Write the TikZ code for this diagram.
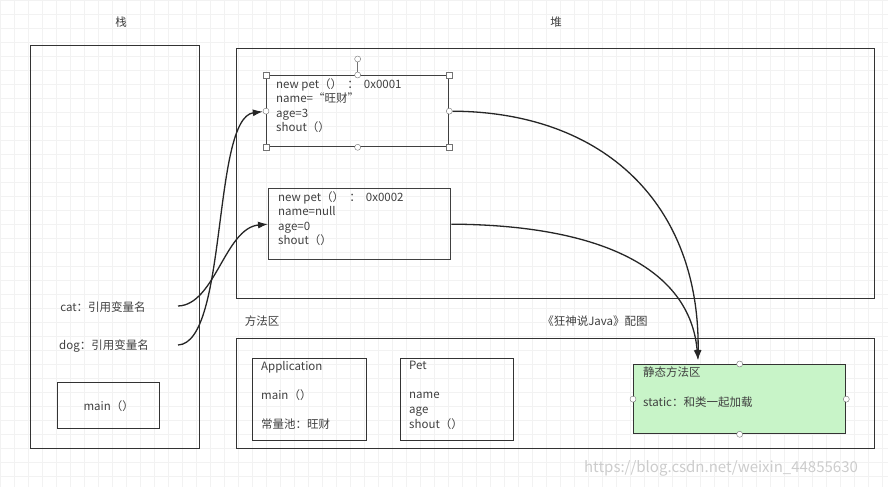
\documentclass[tikz,border=0pt]{standalone}
\usepackage{fontspec}
\setmainfont{Noto Sans CJK SC}
\usetikzlibrary{arrows.meta,calc}
\definecolor{staticgreen}{RGB}{200,244,200}
\tikzset{area/.style={draw=black!80, line width=1.3pt, rectangle, anchor=north west, inner sep=0pt}}
\tikzset{obj/.style={draw=black!75, line width=1.3pt, rectangle, anchor=north west, inner sep=0pt}}
\tikzset{txt/.style={anchor=north west, align=left, inner sep=0pt, text=black!75, font=\fontsize{11.5}{14.6}\selectfont}}
\tikzset{label/.style={text=black!75, inner sep=0pt, font=\fontsize{11.5}{13}\selectfont}}
\tikzset{line/.style={draw, line width=1.3pt, black!85, -{Latex[length=10pt,width=7pt]}}}
\tikzset{handle/.style={draw=black!55, fill=white, circle, inner sep=0pt, minimum size=6pt}}
\tikzset{corner/.style={draw=black!55, fill=white, rectangle, inner sep=0pt, minimum size=6pt}}

\begin{document}
\begin{tikzpicture}[x=1pt,y=-1pt]
\useasboundingbox (0,0) rectangle (888,487);
\fill[white] (0,0) rectangle (888,487);
\draw[black!5, step=14pt] (0,487) grid (888,0);

%STACK
\node [label] (stacklabel) at (121,22) {栈};
\node [area, minimum width=169pt, minimum height=403pt] (stack) at (30,45) {};
\node [label] (cat) at (103,307) {cat：引用变量名};
\node [label] (dog) at (104,346) {dog：引用变量名};
\node [area, label, draw=black!80, anchor=north west, minimum width=102pt, minimum height=46pt] (main) at (57,382) {main（）};
\coordinate (catref) at (178,306);
\coordinate (dogref) at (178,345);

%HEAP
\node [label] (heaplabel) at (556,22) {堆};
\node [area, minimum width=638pt, minimum height=250pt] (heap) at (236,48) {};
\node [obj, minimum width=182pt, minimum height=71pt] (pet1) at (266,75) {};
\node [txt] (pet1text) at (276,78) {new pet（）\ \ ：\ \ 0x0001\\name=“旺财”\\age=3\\shout（）};
\node [obj, minimum width=182pt, minimum height=71pt] (pet2) at (268,188) {};
\node [txt] (pet2text) at (278,191) {new pet（）\ \ ：\ \ 0x0002\\name=null\\age=0\\shout（）};

%SELECTION HANDLES
\coordinate (rot) at ($(pet1.north)+(0,-16)$);
\draw [black!55] (pet1.north) -- (rot);
\node [handle] (h0) at (rot) {};
\foreach \a [count=\i] in {north west, north east, south west, south east}
  \node [corner] (c\i) at (pet1.\a) {};
\foreach \a [count=\i] in {north, south, west, east}
  \node [handle] (h\i) at (pet1.\a) {};

%METHOD AREA
\node [label] (methodlabel) at (262,321) {方法区};
\node [label] (credit) at (595,321) {《狂神说Java》配图};
\node [area, minimum width=638pt, minimum height=110pt] (method) at (236,338) {};
\node [obj, draw=black!80, minimum width=114pt, minimum height=82pt] (app) at (252,358) {};
\node [txt] (apptext) at (261,361) {Application\\ \\main（）\\ \\常量池：旺财};
\node [obj, draw=black!80, minimum width=113pt, minimum height=82pt] (petclass) at (400,358) {};
\node [txt] (petclasstext) at (409,361) {Pet\\ \\name\\age\\shout（）};
\node [obj, draw=black!80, fill=staticgreen, minimum width=212pt, minimum height=69pt] (static) at (633,364) {};
\node [txt] (statictext) at (643,367) {静态方法区\\ \\static：和类一起加载};
\foreach \a [count=\i] in {north, south, west, east}
  \node [handle] (s\i) at (static.\a) {};
\coordinate (target) at (698,360);

%REFERENCES
\path [line] (dogref) .. controls (228,343) and (212,118) .. (h3);
\path [line] (catref) .. controls (215,305) and (225,228) .. (pet2.west);
\path [line] (h4) .. controls (605,112) and (700,205) .. (target);
\path [line] (pet2.east) .. controls (600,225) and (690,268) .. (target);

\node [text=black!20, font=\fontsize{15}{16}\selectfont] (mark) at (721,468) {https://blog.csdn.net/weixin\_44855630};

\end{tikzpicture}
\end{document}
